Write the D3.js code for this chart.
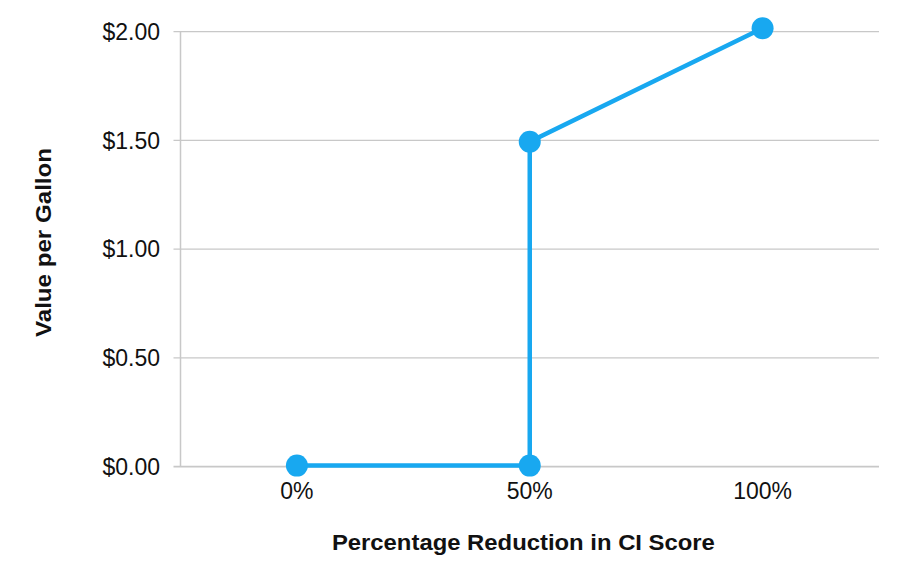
<!DOCTYPE html>
<html><head><meta charset="utf-8">
<script src="https://cdn.jsdelivr.net/npm/d3@7"></script>
<style>body{margin:0;background:#fff;} text{font-family:"Liberation Sans",Arial,sans-serif;}</style>
</head><body>
<svg id="c" width="906" height="578"></svg>
<script>
const reductionPct = [0, 50, 50, 100];
const valuePerGallon = [0.005, 0.005, 1.494, 2.016];
const yTicks = [0, 0.5, 1, 1.5, 2];
const xTicks = [0, 50, 100];
const xTitle = "Percentage Reduction in CI Score";
const yTitle = "Value per Gallon";

const svg = d3.select("#c");
const L = 180.5, R = 879, T = 31.7, B = 466.7;
const x = d3.scaleLinear().domain([-25, 125]).range([L, R]);
const y = d3.scaleLinear().domain([0, 2]).range([B, T]);

svg.append("g").selectAll("line").data(yTicks).join("line")
  .attr("x1", L - 7).attr("x2", R)
  .attr("y1", d => y(d)).attr("y2", d => y(d))
  .attr("stroke", "#c8c8c8").attr("stroke-width", d => d === 0 ? 1.8 : 1.2);
svg.append("line").attr("x1", L).attr("x2", L).attr("y1", T).attr("y2", B)
  .attr("stroke", "#c8c8c8").attr("stroke-width", 1.5);

svg.append("g").selectAll("text").data(yTicks).join("text")
  .attr("x", 160).attr("y", d => y(d)).attr("dy", "0.36em")
  .attr("text-anchor", "end").attr("font-size", 23).attr("fill", "#111")
  .text(d => "$" + d3.format(".2f")(d));

svg.append("g").selectAll("text").data(xTicks).join("text")
  .attr("x", d => x(d)).attr("y", 498.5)
  .attr("text-anchor", "middle").attr("font-size", 23).attr("fill", "#111")
  .text(d => d + "%");

svg.append("text").attr("x", 523.4).attr("y", 549.5).attr("text-anchor", "middle")
  .attr("font-size", 22).attr("font-weight", "bold").attr("fill", "#111")
  .attr("textLength", 383).attr("lengthAdjust", "spacingAndGlyphs").text(xTitle);
svg.append("text").attr("transform", "translate(51,242.5) rotate(-90)").attr("text-anchor", "middle")
  .attr("font-size", 22).attr("font-weight", "bold").attr("fill", "#111")
  .attr("textLength", 189).attr("lengthAdjust", "spacingAndGlyphs").text(yTitle);

const data = reductionPct.map((p, i) => ({p, v: valuePerGallon[i]}));
const color = "#18a8f0";
svg.append("path").datum(data)
  .attr("d", d3.line().x(d => x(d.p)).y(d => y(d.v)))
  .attr("fill", "none").attr("stroke", color).attr("stroke-width", 4.5);
svg.append("g").selectAll("circle").data(data).join("circle")
  .attr("cx", d => x(d.p)).attr("cy", d => y(d.v)).attr("r", 11).attr("fill", color);
</script>
</body></html>
